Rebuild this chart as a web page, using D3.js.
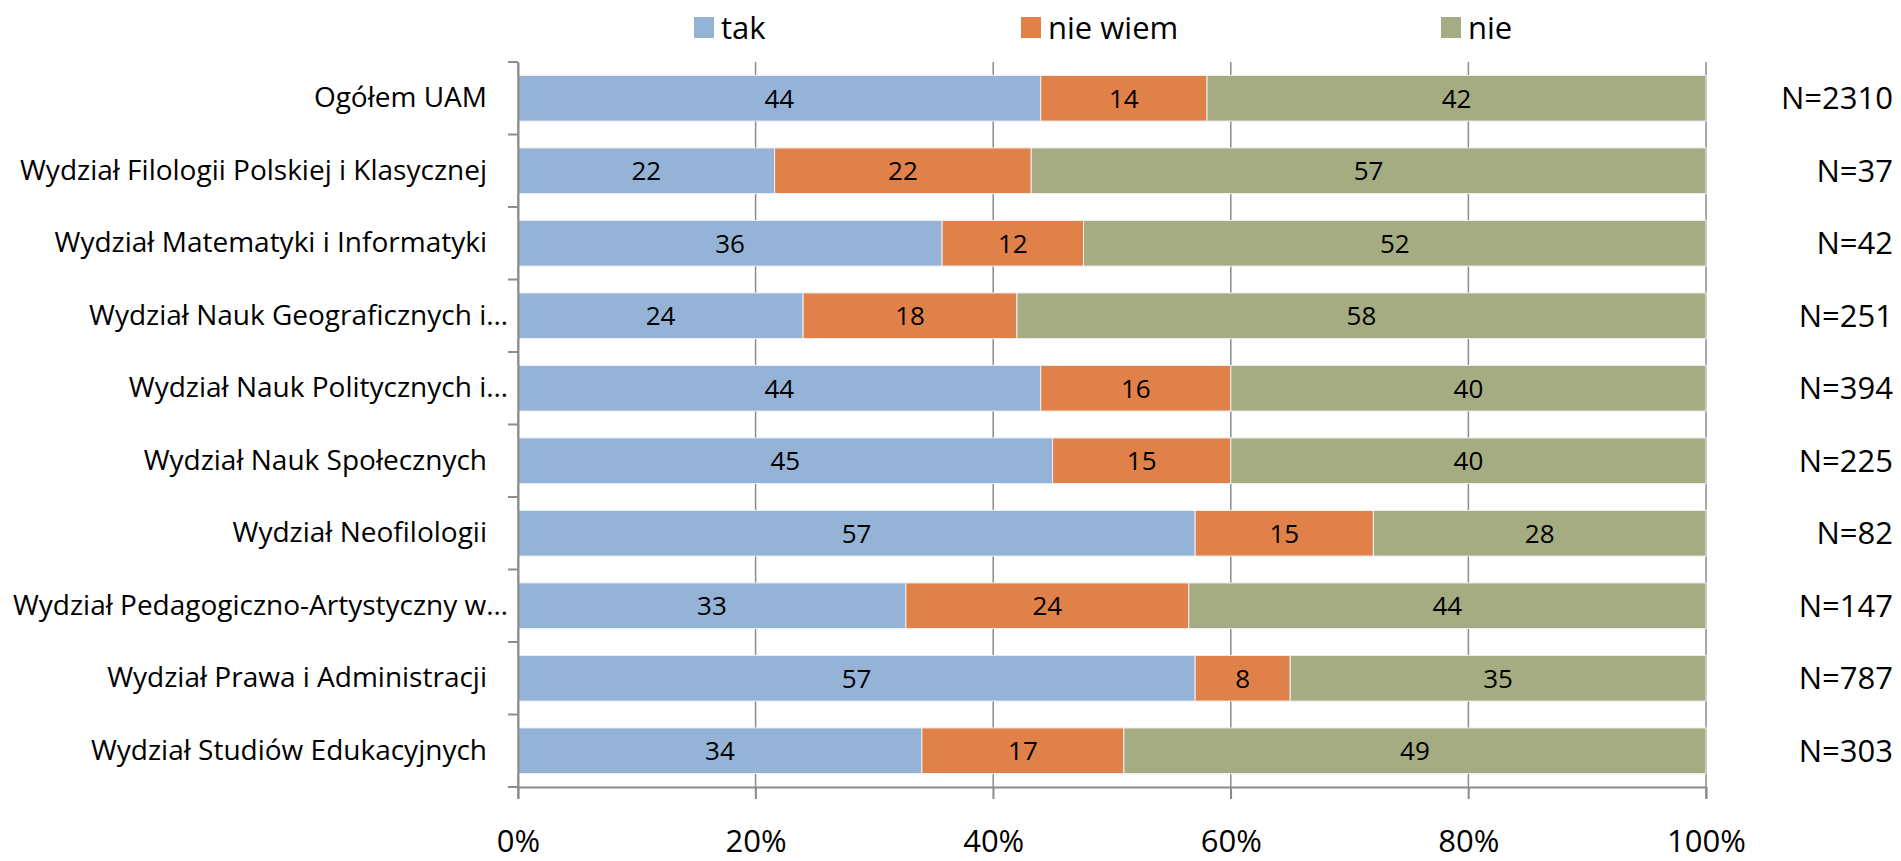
<!DOCTYPE html>
<html>
<head>
<meta charset="utf-8">
<script src="https://cdn.jsdelivr.net/npm/d3@7"></script>
<style>
  body { margin: 0; background: #fff; }
  svg text { font-family: "Open Sans", sans-serif; fill: #000; }
</style>
</head>
<body>
<svg id="chart" width="1901" height="861"></svg>
<script>
'use strict';

const categories = [
  'Ogółem UAM',
  'Wydział Filologii Polskiej i Klasycznej',
  'Wydział Matematyki i Informatyki',
  'Wydział Nauk Geograficznych i…',
  'Wydział Nauk Politycznych i…',
  'Wydział Nauk Społecznych',
  'Wydział Neofilologii',
  'Wydział Pedagogiczno-Artystyczny w…',
  'Wydział Prawa i Administracji',
  'Wydział Studiów Edukacyjnych',
];
const takValues = [44, 21.6, 35.7, 24, 44, 45, 57, 32.65, 57, 34];
const nieWiemValues = [14, 21.6, 11.9, 18, 16, 15, 15, 23.81, 8, 17];
const nieValues = [42, 56.8, 52.4, 58, 40, 40, 28, 43.54, 35, 49];
const nLabels = ['N=2310', 'N=37', 'N=42', 'N=251', 'N=394', 'N=225', 'N=82', 'N=147', 'N=787', 'N=303'];
const seriesNames = ['tak', 'nie wiem', 'nie'];
const xTicks = [0, 20, 40, 60, 80, 100];

const COLORS = ['#95b3d6', '#df8149', '#a5ac82'];
const KEYS = ['tak', 'nieWiem', 'nie'];

const data = categories.map((c, i) => ({
  cat: c,
  tak: takValues[i],
  nieWiem: nieWiemValues[i],
  nie: nieValues[i],
  n: nLabels[i],
}));

const margin = { top: 62, right: 195, bottom: 74, left: 518 };
const width = 1901, height = 861;
const svg = d3.select('#chart');

const x = d3.scaleLinear().domain([0, 100]).range([margin.left, width - margin.right]);
const y = d3.scaleBand()
  .domain(categories)
  .range([margin.top, height - margin.bottom])
  .paddingInner(0.37)
  .paddingOuter(0.185);

// gridlines
svg.append('g')
  .selectAll('line')
  .data(xTicks)
  .enter()
  .append('line')
  .attr('x1', (d) => x(d))
  .attr('x2', (d) => x(d))
  .attr('y1', margin.top)
  .attr('y2', height - margin.bottom + 12)
  .attr('stroke', '#8c8c8c')
  .attr('stroke-width', 1.5);

// bars
const stacked = d3.stack().keys(KEYS)(data);
svg.append('g')
  .selectAll('g')
  .data(stacked)
  .enter()
  .append('g')
  .attr('fill', (d, i) => COLORS[i])
  .selectAll('rect')
  .data((d) => d)
  .enter()
  .append('rect')
  .attr('x', (d) => x(d[0]))
  .attr('width', (d) => x(d[1]) - x(d[0]))
  .attr('y', (d) => y(d.data.cat))
  .attr('height', y.bandwidth())
  .attr('stroke', '#eef1f5')
  .attr('stroke-width', 1);

// value labels
svg.append('g')
  .selectAll('g')
  .data(stacked)
  .enter()
  .append('g')
  .selectAll('text')
  .data((d) => d)
  .enter()
  .append('text')
  .attr('x', (d) => (x(d[0]) + x(d[1])) / 2)
  .attr('y', (d) => y(d.data.cat) + y.bandwidth() / 2)
  .attr('dy', '0.36em')
  .attr('text-anchor', 'middle')
  .style('font-size', '26px')
  .text((d) => Math.round(d[1] - d[0]));

// left axis
const yAxisG = svg.append('g')
  .attr('transform', `translate(${margin.left},0)`)
  .call(d3.axisLeft(y).tickSize(0).tickPadding(31).tickSizeOuter(0));
yAxisG.select('.domain').attr('stroke', '#8c8c8c').attr('stroke-width', 2);
yAxisG.selectAll('.tick text')
  .style('font-size', '28px')
  .attr('fill', '#000')
  // truncated labels sit a bit closer to the axis, as in the original
  .attr('x', (d) => (d.endsWith('…') ? -10 : -31))
  .each(function () {
    const w = this.getComputedTextLength();
    if (w > 495) {
      d3.select(this).attr('textLength', 495).attr('lengthAdjust', 'spacingAndGlyphs');
    }
  });

// category separators on left axis
const bounds = categories.map((c) => y(c) - (y.step() * y.paddingInner()) / 2);
bounds.push(height - margin.bottom);
svg.append('g')
  .selectAll('line')
  .data(bounds)
  .enter()
  .append('line')
  .attr('x1', margin.left - 10)
  .attr('x2', margin.left)
  .attr('y1', (d) => d)
  .attr('y2', (d) => d)
  .attr('stroke', '#8c8c8c')
  .attr('stroke-width', 2);

// bottom axis
const xAxisG = svg.append('g')
  .attr('transform', `translate(0,${height - margin.bottom})`)
  .call(d3.axisBottom(x).tickValues(xTicks).tickSize(12).tickPadding(31).tickFormat((d) => d + '%'));
xAxisG.select('.domain').attr('stroke', '#8c8c8c').attr('stroke-width', 2);
xAxisG.selectAll('.tick line').attr('stroke', '#8c8c8c').attr('stroke-width', 1.5);
xAxisG.selectAll('.tick text').style('font-size', '31px').attr('fill', '#000');

// N labels
svg.append('g')
  .selectAll('text')
  .data(data)
  .enter()
  .append('text')
  .attr('x', 1893)
  .attr('y', (d) => y(d.cat) + y.bandwidth() / 2)
  .attr('dy', '0.36em')
  .attr('text-anchor', 'end')
  .style('font-size', '31px')
  .text((d) => d.n);

// legend
const legendX = [694, 1021, 1441];
const legend = svg.append('g')
  .selectAll('g')
  .data(seriesNames)
  .enter()
  .append('g')
  .attr('transform', (d, i) => `translate(${legendX[i]},17)`);
legend.append('rect')
  .attr('width', 20)
  .attr('height', 21)
  .attr('fill', (d, i) => COLORS[i]);
legend.append('text')
  .attr('x', 27)
  .attr('y', 10.5)
  .attr('dy', '0.36em')
  .style('font-size', '31px')
  .text((d) => d);
</script>
</body>
</html>
